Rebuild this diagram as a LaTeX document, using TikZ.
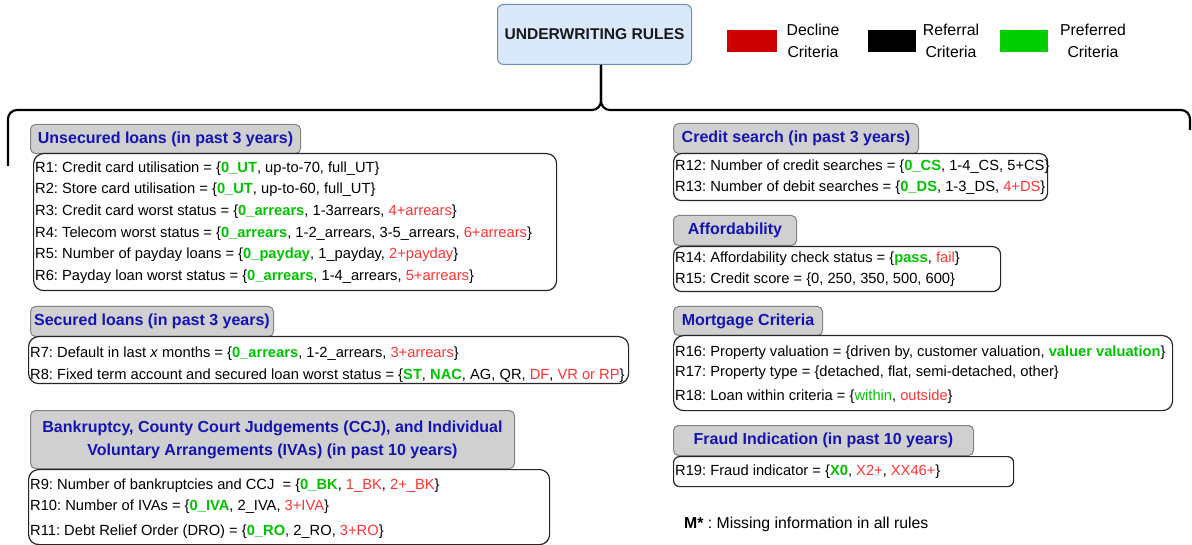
\documentclass[tikz,border=0pt]{standalone}
\usepackage{fontspec}
\setmainfont{Liberation Sans}
\usepackage{xcolor}
\frenchspacing
\definecolor{declred}{RGB}{204,0,0}
\definecolor{prefgreen}{RGB}{0,204,0}
\definecolor{txtgreen}{RGB}{0,196,0}
\definecolor{txtred}{RGB}{255,51,51}
\definecolor{hdrblue}{RGB}{20,20,180}
\definecolor{hdrfill}{RGB}{208,208,208}
\definecolor{hdrdraw}{RGB}{130,130,130}
\definecolor{titlefill}{RGB}{218,232,252}
\definecolor{titledraw}{RGB}{108,142,191}
\newcommand\okv[1]{\textcolor{txtgreen}{\textbf{#1}}}
\newcommand\okp[1]{\textcolor{txtgreen}{#1}}
\newcommand\badv[1]{\textcolor{txtred}{#1}}
\tikzset{
  hdr/.style={draw=hdrdraw, fill=hdrfill, rounded corners=5pt, line width=1pt,
    anchor=north west, inner sep=0pt, align=center,
    font=\fontsize{16}{23}\selectfont\bfseries, text=hdrblue},
  rulebox/.style={draw=black!85, fill=white, rounded corners=10pt, line width=1.2pt,
    anchor=north west, inner sep=0pt},
  rowtext/.style={anchor=base west, inner sep=0pt, font=\fontsize{14.7}{17}\selectfont},
  legbox/.style={anchor=north west, inner sep=0pt, minimum width=50pt, minimum height=22pt},
  legtext/.style={align=center, inner sep=0pt, font=\fontsize{15.8}{22}\selectfont},
  bracket/.style={line width=2.2pt, rounded corners=9pt},
}
\begin{document}
\begin{tikzpicture}[x=1pt,y=-1pt]
\useasboundingbox (0,0) rectangle (1192,545);
% title
\node[draw=titledraw, fill=titlefill, rounded corners=6pt, line width=1pt, anchor=north west,
  minimum width=194pt, minimum height=60pt, inner sep=0pt,
  font=\fontsize{15.6}{18}\selectfont\bfseries, text=black!90] (title) at (497,4) {UNDERWRITING RULES};
% legend
\node[legbox, fill=declred] (lgred) at (727,30) {};
\node[legtext] (lgredt) at (813,41) {Decline\\Criteria};
\node[legbox, fill=black, minimum width=48pt] (lgblk) at (868,30) {};
\node[legtext] (lgblkt) at (951,41) {Referral\\Criteria};
\node[legbox, fill=prefgreen, minimum width=48pt] (lggrn) at (1000,30) {};
\node[legtext] (lggrnt) at (1093,41) {Preferred\\Criteria};
% bracket
\coordinate (brM) at (601,110);
\coordinate (brL) at (8,166);
\coordinate (brR) at (1190,130);
\draw[bracket] (brL) -- (8,110) -- (brM) -- (title.south -| brM);
\draw[bracket] (brR) -- (1190,110) -- (brM) -- (title.south -| brM);

% ---------- Unsecured loans
\node[hdr, minimum width=270pt, minimum height=29pt] (h1) at (30,124) {Unsecured loans (in past 3 years)};
\node[rulebox, minimum width=523pt, minimum height=137pt] (b1) at (33,153) {};
\node[rowtext] (r1) at (35,173) {R1: Credit card utilisation = \{\okv{0\_UT}, up-to-70, full\_UT\}};
\node[rowtext] (r2) at (35,194) {R2: Store card utilisation = \{\okv{0\_UT}, up-to-60, full\_UT\}};
\node[rowtext] (r3) at (35,216) {R3: Credit card worst status = \{\okv{0\_arrears}, 1-3arrears, \badv{4+arrears}\}};
\node[rowtext] (r4) at (35,238) {R4: Telecom worst status = \{\okv{0\_arrears}, 1-2\_arrears, 3-5\_arrears, \badv{6+arrears}\}};
\node[rowtext] (r5) at (35,259) {R5: Number of payday loans = \{\okv{0\_payday}, 1\_payday, \badv{2+payday}\}};
\node[rowtext] (r6) at (35,281) {R6: Payday loan worst status = \{\okv{0\_arrears}, 1-4\_arrears, \badv{5+arrears}\}};

% ---------- Secured loans
\node[hdr, minimum width=243pt, minimum height=30pt] (h2) at (30,306) {Secured loans (in past 3 years)};
\node[rulebox, minimum width=600pt, minimum height=47pt] (b2) at (28,336) {};
\node[rowtext] (r7) at (30,358) {R7: Default in last \textit{x} months = \{\okv{0\_arrears}, 1-2\_arrears, \badv{3+arrears}\}};
\node[rowtext] (r8) at (30,380) {R8: Fixed term account and secured loan worst status = \{\okv{ST}, \okv{NAC}, AG, QR, \badv{DF}, \badv{VR or RP}\}};

% ---------- Bankruptcy
\node[hdr, minimum width=484pt, minimum height=58pt] (h3) at (30,410) {Bankruptcy, County Court Judgements (CCJ), and Individual\\Voluntary Arrangements (IVAs) (in past 10 years)};
\node[rulebox, minimum width=521pt, minimum height=75pt] (b3) at (28,469) {};
\node[rowtext] (r9) at (30,489) {R9: Number of bankruptcies and CCJ\ \ = \{\okv{0\_BK}, \badv{1\_BK}, \badv{2+\_BK}\}};
\node[rowtext] (r10) at (30,510) {R10: Number of IVAs = \{\okv{0\_IVA}, 2\_IVA, \badv{3+IVA}\}};
\node[rowtext] (r11) at (30,535) {R11: Debt Relief Order (DRO) = \{\okv{0\_RO}, 2\_RO, \badv{3+RO}\}};

% ---------- Credit search
\node[hdr, minimum width=245pt, minimum height=30pt] (h4) at (673,123) {Credit search (in past 3 years)};
\node[rulebox, rounded corners=8pt, minimum width=374pt, minimum height=47pt] (b4) at (673,153) {};
\node[rowtext] (r12) at (675,171) {R12: Number of credit searches = \{\okv{0\_CS}, 1-4\_CS, 5+CS\}};
\node[rowtext] (r13) at (675,192) {R13: Number of debit searches = \{\okv{0\_DS}, 1-3\_DS, \badv{4+DS}\}};

% ---------- Affordability
\node[hdr, minimum width=123pt, minimum height=30pt] (h5) at (673,215) {Affordability};
\node[rulebox, rounded corners=8pt, minimum width=327pt, minimum height=45pt] (b5) at (673,246) {};
\node[rowtext] (r14) at (675,263) {R14: Affordability check status = \{\okv{pass}, \badv{fail}\}};
\node[rowtext] (r15) at (675,284) {R15: Credit score = \{0, 250, 350, 500, 600\}};

% ---------- Mortgage
\node[hdr, minimum width=149pt, minimum height=29pt] (h6) at (673,306) {Mortgage Criteria};
\node[rulebox, minimum width=499pt, minimum height=75pt] (b6) at (673,335) {};
\node[rowtext] (r16) at (675,356) {R16: Property valuation = \{driven by, customer valuation, \okv{valuer valuation}\}};
\node[rowtext] (r17) at (675,377) {R17: Property type = \{detached, flat, semi-detached, other\}};
\node[rowtext] (r18) at (675,400) {R18: Loan within criteria = \{\okp{within}, \badv{outside}\}};

% ---------- Fraud
\node[hdr, minimum width=300pt, minimum height=30pt] (h7) at (673,425) {Fraud Indication (in past 10 years)};
\node[rulebox, rounded corners=6pt, minimum width=340pt, minimum height=30pt] (b7) at (673,456) {};
\node[rowtext] (r19) at (675,475) {R19: Fraud indicator = \{\okv{X0}, \badv{X2+}, \badv{XX46+}\}};

% note
\node[anchor=base west, inner sep=0pt, font=\fontsize{15.8}{18}\selectfont] (miss) at (684,528) {\textbf{M*} : Missing information in all rules};
\end{tikzpicture}
\end{document}
